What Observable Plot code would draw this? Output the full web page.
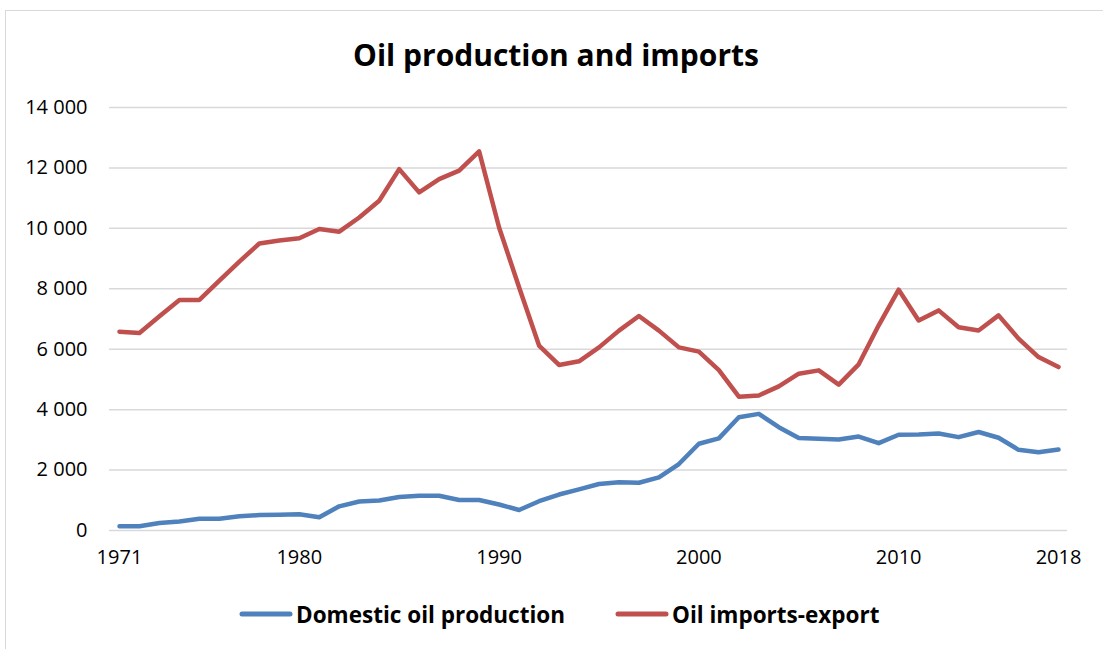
<!DOCTYPE html>
<html>
<head>
<meta charset="utf-8">
<script src="https://cdn.jsdelivr.net/npm/d3@7"></script>
<script src="https://cdn.jsdelivr.net/npm/@observablehq/plot@0.6"></script>
<style>
  html, body { margin: 0; padding: 0; background: #fff; }
  #wrap { position: relative; width: 1103px; height: 649px; overflow: hidden; font-family: "Open Sans", sans-serif; }
  #frame { position: absolute; left: 5px; top: 10px; width: 1200px; height: 800px; border-left: 1.5px solid #d9d9d9; border-top: 1.5px solid #d9d9d9; }
  #title { position: absolute; left: 5px; width: 1102px; top: 32px; height: 46px; line-height: 46px; text-align: center; font-weight: 700; font-size: 30px; color: #000; }
  #chart { position: absolute; left: 0; top: 90px; }
  .leg { position: absolute; top: 597px; height: 34px; display: flex; align-items: center; font-weight: 700; font-size: 22.5px; color: #000; white-space: nowrap; }
  .leg svg { margin-right: 3px; }
</style>
</head>
<body>
<div id="wrap">
  <div id="frame"></div>
  <div id="title">Oil production and imports</div>
  <div id="chart"></div>
  <div id="legend"></div>
</div>
<script>
const years = d3.range(1971, 2019);
const production = [
  140, 140, 250, 300, 390, 390, 470, 510, 520, 540,
  440, 800, 960, 990, 1110, 1150, 1150, 1010, 1010, 860,
  680, 970, 1190, 1360, 1540, 1600, 1580, 1760, 2200, 2870,
  3050, 3750, 3860, 3420, 3060, 3035, 3010, 3110, 2890, 3170,
  3180, 3210, 3090, 3260, 3070, 2670, 2590, 2680
];
const imports = [
  6580, 6540, 7090, 7630, 7630, 8270, 8900, 9500, 9600, 9670,
  9980, 9890, 10360, 10915, 11960, 11190, 11630, 11910, 12550, 10030,
  8050, 6120, 5480, 5600, 6060, 6615, 7100, 6615, 6060, 5920,
  5310, 4430, 4470, 4770, 5190, 5300, 4830, 5500, 6790, 7970,
  6950, 7285, 6730, 6620, 7120, 6350, 5740, 5410
];
const seriesNames = ["Domestic oil production", "Oil imports-export"];
const seriesColors = ["#4F81BD", "#C0504D"];
const xTicks = [1971, 1980, 1990, 2000, 2010, 2018];
const yTicks = [0, 2000, 4000, 6000, 8000, 10000, 12000, 14000];

const fmt = d3.formatLocale({decimal: ".", thousands: " ", grouping: [3], currency: ["", ""]}).format(",");

const rows = [];
years.forEach((y, i) => {
  rows.push({year: y, value: production[i], series: seriesNames[0]});
  rows.push({year: y, value: imports[i], series: seriesNames[1]});
});

const plot = Plot.plot({
  width: 1103,
  height: 490,
  marginTop: 17,
  marginBottom: 50,
  marginLeft: 109,
  marginRight: 36,
  style: {fontFamily: "Open Sans, sans-serif", fontSize: "20px", color: "#000", background: "transparent"},
  x: {domain: [1970.5, 2018.45], ticks: xTicks, tickFormat: d => String(d), tickSize: 0, tickPadding: 19, label: null},
  y: {domain: [0, 14000], ticks: yTicks, tickFormat: fmt, tickSize: 0, tickPadding: 22, label: null},
  color: {domain: seriesNames, range: seriesColors},
  marks: [
    Plot.ruleY(yTicks, {stroke: "#d9d9d9", strokeWidth: 1.5}),
    Plot.axisX({ticks: xTicks, tickFormat: d => String(d), tickSize: 0, tickPadding: 19, fontSize: 20}),
    Plot.axisY({ticks: yTicks, tickFormat: fmt, tickSize: 0, tickPadding: 22, fontSize: 20}),
    Plot.line(rows, {x: "year", y: "value", z: "series", stroke: "series", strokeWidth: 4.5, strokeLinejoin: "round", strokeLinecap: "round"})
  ]
});
document.getElementById("chart").appendChild(plot);

const legend = document.getElementById("legend");
const legLefts = [239, 615];
seriesNames.forEach((name, i) => {
  const item = document.createElement("div");
  item.className = "leg";
  item.style.left = legLefts[i] + "px";
  item.innerHTML = `<svg width="54" height="10"><line x1="3" y1="5" x2="51" y2="5" stroke="${seriesColors[i]}" stroke-width="5" stroke-linecap="round"/></svg><span>${name}</span>`;
  legend.appendChild(item);
});
</script>
</body>
</html>
